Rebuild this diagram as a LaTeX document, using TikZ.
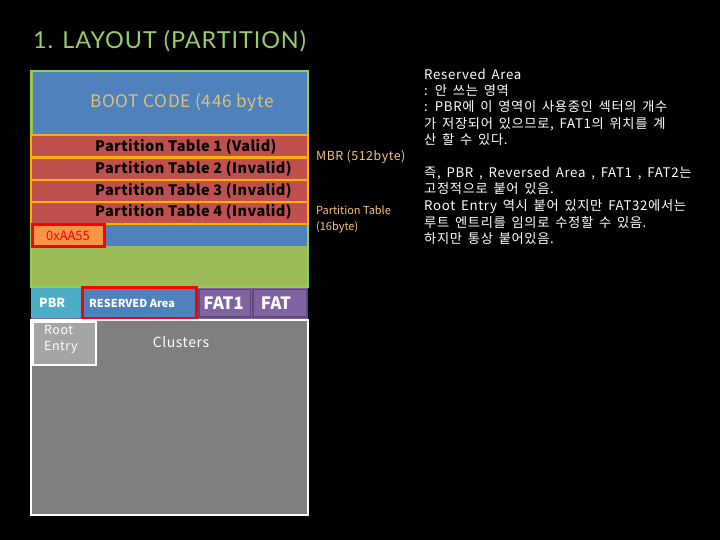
\documentclass[tikz,border=0pt]{standalone}
\usepackage{fontspec}
\setmainfont{Noto Sans CJK KR}
\newfontfamily\titlefont[LetterSpace=4]{Lato}
\newfontfamily\krfont[LetterSpace=5,WordSpace=1.6]{Noto Sans CJK KR}
\newfontfamily\spfont[LetterSpace=4]{Noto Sans CJK KR}
\newfontfamily\ptfont[LetterSpace=3]{Noto Sans CJK KR}
\definecolor{bgblack}{HTML}{000000}
\definecolor{titlegreen}{HTML}{9BCB6B}
\definecolor{mbrgreen}{HTML}{9BBB59}
\definecolor{mbrborder}{HTML}{92D050}
\definecolor{bootblue}{HTML}{4F81BD}
\definecolor{ptred}{HTML}{C0504D}
\definecolor{ptborder}{HTML}{FFB000}
\definecolor{aaorange}{HTML}{F79646}
\definecolor{pbrcyan}{HTML}{4BACC6}
\definecolor{fatpurple}{HTML}{8064A2}
\definecolor{fatborder}{HTML}{5F497A}
\definecolor{clgray}{HTML}{7F7F7F}
\definecolor{rootgray}{HTML}{A5A5A5}
\definecolor{labeltan}{HTML}{F7C47E}
\definecolor{boottext}{HTML}{D8C37A}
\begin{document}
\begin{tikzpicture}[x=1bp,y=-1bp,
  ptrow/.style={fill=ptred,draw=ptborder,line width=2.2bp},
  redframe/.style={draw=red,line width=3bp},
  fatcell/.style={fill=fatpurple,draw=fatborder,line width=1.5bp},
  txt/.style={inner sep=0pt,anchor=west},
  pttext/.style={txt,font=\ptfont\bfseries\fontsize{14.5}{16}\selectfont},
]
\fill[bgblack] (0,0) rectangle (720,540);
\useasboundingbox (0,0) rectangle (720,540);

% title
\node[txt,text=titlegreen,font=\titlefont\fontsize{23.5}{26}\selectfont] (title) at (33,41) {1. LAYOUT (PARTITION)};

% MBR
\filldraw[fill=mbrgreen,draw=mbrborder,line width=2bp] (31,71) rectangle (308,287);
\fill[bootblue] (32.5,72.5) rectangle (306.5,134);
\node[txt,text=boottext,font=\spfont\fontsize{17.3}{19}\selectfont] (boot) at (90,102) {BOOT CODE (446 byte};

\fill[bootblue] (32.5,224) rectangle (306.5,246);

\draw[ptrow] (31,135) rectangle (308,157.5);
\draw[ptrow] (31,157.5) rectangle (308,180);
\draw[ptrow] (31,180) rectangle (308,202);
\draw[ptrow] (31,202) rectangle (308,224);
\node[pttext] (pt1) at (95,147) {Partition Table 1 (Valid)};
\node[pttext] (pt2) at (95,169) {Partition Table 2 (Invalid)};
\node[pttext] (pt3) at (95,191) {Partition Table 3 (Invalid)};
\node[pttext] (pt4) at (95,212) {Partition Table 4 (Invalid)};

\filldraw[fill=aaorange,redframe] (32,224.5) rectangle (104.5,246.5);
\node[text=red,font=\fontsize{13}{14}\selectfont,inner sep=0pt] (aa55) at (68,236) {0xAA55};

% PBR row
\fill[fatpurple] (31,288) rectangle (308,319);
\fill[pbrcyan] (31,288) rectangle (81,318);
\node[txt,text=white,font=\bfseries\fontsize{12.5}{13}\selectfont] (pbr) at (39,303) {PBR};
\filldraw[fill=bootblue,redframe] (82,287.5) rectangle (196,318.5);
\node[txt,text=white,font=\bfseries\fontsize{11}{12}\selectfont] (res) at (89,303) {RESERVED Area};
\draw[fatcell] (199,289.5) rectangle (250.5,317);
\node[text=white,font=\bfseries\fontsize{17}{18}\selectfont,inner sep=0pt] (fat1) at (223.5,303) {FAT1};
\draw[fatcell] (253,289.5) rectangle (307,317);
\node[text=white,font=\bfseries\fontsize{17}{18}\selectfont,inner sep=0pt] (fat) at (276,303) {FAT};

% clusters
\filldraw[fill=clgray,draw=white,line width=2bp] (31,320) rectangle (308,515);
\node[text=white,font=\spfont\fontsize{14}{16}\selectfont,inner sep=0pt] (clusters) at (181,342) {Clusters};
\filldraw[fill=rootgray,draw=white,line width=2bp] (33,322) rectangle (96,365);
\node[txt,text=white,font=\spfont\fontsize{12.5}{16}\selectfont,align=left,anchor=north west] (root) at (44,325) {Root\\Entry};

% side labels
\node[txt,text=labeltan,font=\spfont\fontsize{12.5}{14}\selectfont] (mbrlbl) at (316,157) {MBR (512byte)};
\node[txt,text=labeltan,font=\fontsize{11}{16}\selectfont,align=left] (ptlbl) at (316,219) {Partition Table\\(16byte)};

% explanation
\node[txt,text=white,font=\krfont\fontsize{13.3}{16.4}\selectfont,align=left,anchor=north west] (note1) at (424,68.5) {Reserved Area\\: 안 쓰는 영역\\: PBR에 이 영역이 사용중인 섹터의 개수\\가 저장되어 있으므로, FAT1의 위치를 계\\산 할 수 있다.};
\node[txt,text=white,font=\krfont\fontsize{13.3}{16.7}\selectfont,align=left,anchor=north west] (note2) at (424,166.5) {즉, PBR , Reversed Area , FAT1 , FAT2는\\고정적으로 붙어 있음.\\Root Entry 역시 붙어 있지만 FAT32에서는\\루트 엔트리를 임의로 수정할 수 있음.\\하지만 통상 붙어있음.};
\end{tikzpicture}
\end{document}
